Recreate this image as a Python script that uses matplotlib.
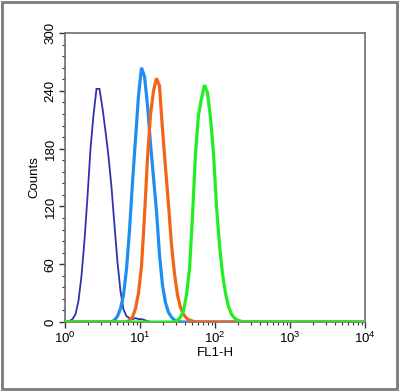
import numpy as np
import matplotlib
matplotlib.use("Agg")
import matplotlib.pyplot as plt
from matplotlib.patches import Rectangle
from matplotlib.ticker import LogLocator, MultipleLocator

plt.rcParams['font.family'] = ['Liberation Sans', 'DejaVu Sans']

# FL1-H channels: 100 log bins, 10^0 .. 10^4
edges = np.logspace(0, 4, 101)
centers = np.sqrt(edges[:-1] * edges[1:])

# counts per channel (start = first channel index)
dark_start = 0
dark_counts = [0, 1, 3, 8, 22, 48, 85, 130, 180, 215, 242, 242, 222, 198, 172,
               140, 100, 62, 32, 13, 6, 4, 3, 4, 3, 3, 2, 1]
light_start = 16
light_counts = [2, 6, 14, 28, 55, 95, 145, 190, 235, 264, 255, 225, 185, 150,
                115, 70, 38, 20, 10, 5, 2, 1]
orange_start = 21
orange_counts = [2, 5, 14, 30, 58, 110, 170, 215, 240, 253, 245, 200, 160, 122,
                 80, 50, 28, 15, 8, 4, 2, 1]
green_start = 37
green_counts = [2, 5, 12, 28, 55, 110, 175, 215, 232, 246, 238, 212, 175, 120,
                80, 50, 30, 16, 8, 4, 2, 1]

series = [
    (dark_start, dark_counts, '#3232b0', 1.3),
    (light_start, light_counts, '#1e8ff0', 2.3),
    (orange_start, orange_counts, '#f26518', 2.3),
    (green_start, green_counts, '#22ee22', 2.3),
]

fig = plt.figure(figsize=(4.0, 3.91), dpi=100)
ax = fig.add_axes([0.1625, 0.1765, 0.75, 0.739])

for i, (start, counts, color, lw) in enumerate(series):
    full = np.zeros(len(centers))
    full[start:start + len(counts)] = counts
    ax.plot(centers, full, color=color, lw=lw, zorder=2 + i,
            solid_joinstyle='miter')

ax.set_xscale('log')
ax.set_xlim(1, 1e4)
ax.set_ylim(0, 300)
ax.yaxis.set_major_locator(MultipleLocator(60))
ax.yaxis.set_minor_locator(MultipleLocator(12))
ax.xaxis.set_major_locator(LogLocator(base=10))
ax.xaxis.set_minor_locator(LogLocator(base=10, subs=np.arange(2, 10)))

for s in ax.spines.values():
    s.set_color('#6e6e6e')
    s.set_linewidth(1.2)

ax.tick_params(axis='both', which='major', direction='out', length=4,
               width=1.0, color='#333333', labelsize=9.5, pad=2)
ax.tick_params(axis='both', which='minor', direction='out', length=2.5,
               width=0.8, color='#333333')
ax.tick_params(axis='y', labelrotation=90)
for lab in ax.get_yticklabels():
    lab.set_va('center')

ax.set_ylabel('Counts', fontsize=9.5, labelpad=3)
ax.set_xlabel('FL1-H', fontsize=9.5, labelpad=1)

fig.patches.append(Rectangle((2 / 400, 2 / 391), 395 / 400, 387 / 391,
                             transform=fig.transFigure, fill=False,
                             edgecolor='#7a7a7a', lw=2))

fig.savefig('out.png', dpi=100)
